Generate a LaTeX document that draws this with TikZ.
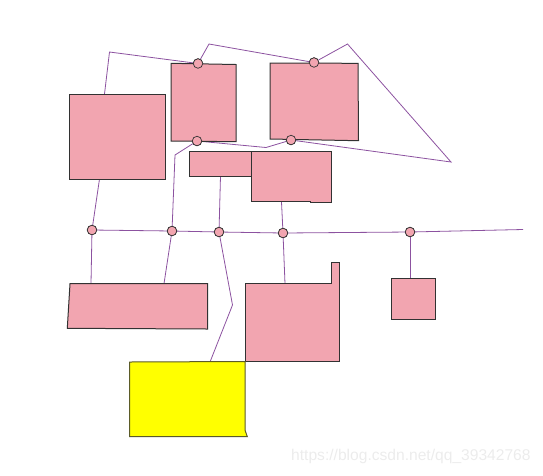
\documentclass[tikz,border=0pt]{standalone}
\usepackage{fontspec}
\newfontfamily\wmfont{Liberation Sans}
\definecolor{boxpink}{RGB}{242,165,176}
\definecolor{wire}{RGB}{140,82,160}
\definecolor{edge}{RGB}{50,50,50}
\definecolor{wmgray}{RGB}{236,236,236}
\definecolor{pureyellow}{RGB}{255,255,0}
\tikzset{
  block/.style={draw=edge, line width=1pt, fill=boxpink, line join=miter},
  yblock/.style={draw=edge!80!pureyellow, line width=1pt, fill=pureyellow},
  conn/.style={draw=wire, line width=0.8pt},
  junction/.style={circle, draw=edge, line width=0.7pt, fill=boxpink, inner sep=0pt, minimum size=9.5pt},
}
\begin{document}
\begin{tikzpicture}[x=1pt,y=-1pt]
\useasboundingbox (0,0) rectangle (543,475);

% junctions
\node[junction] (t1) at (198,63.5) {};
\node[junction] (t2) at (314,62.5) {};
\node[junction] (b1) at (197,141) {};
\node[junction] (b2) at (291,140) {};
\node[junction] (j1) at (92,230) {};
\node[junction] (j2) at (172,231) {};
\node[junction] (j3) at (219,232) {};
\node[junction] (j4) at (283,233) {};
\node[junction] (j5) at (410,232) {};

% attach points and bends
\coordinate (aTop) at (104.5,94);
\coordinate (aBot) at (99.5,179);
\coordinate (k1) at (109.5,52);
\coordinate (k2) at (209,44);
\coordinate (k3) at (347.5,44);
\coordinate (k4) at (451,162);
\coordinate (k5) at (266,147.5);
\coordinate (k6) at (175,155);
\coordinate (dBot) at (220.5,176);
\coordinate (eBot) at (281.5,202);
\coordinate (fTop) at (410,278.5);
\coordinate (gTop1) at (91,283.7);
\coordinate (gTop2) at (164,283.7);
\coordinate (hTop) at (285,283.7);
\coordinate (k7) at (232.5,305);
\coordinate (yTop) at (210,362);
\coordinate (lineEnd) at (523,229.5);

% connectors
\draw[conn] (aTop) -- (k1) -- (t1);
\draw[conn] (t1) -- (k2) -- (t2);
\draw[conn] (t2) -- (k3) -- (k4) -- (b2);
\draw[conn] (b1) -- (k5) -- (b2);
\draw[conn] (b1) -- (k6) -- (j2);
\draw[conn] (aBot) -- (j1);
\draw[conn] (dBot) -- (j3);
\draw[conn] (eBot) -- (j4);
\draw[conn] (j1) -- (j2);
\draw[conn] (j2) -- (j3);
\draw[conn] (j3) -- (j4);
\draw[conn] (j4) -- (j5);
\draw[conn] (j5) -- (lineEnd);
\draw[conn] (j5) -- (fTop);
\draw[conn] (j1) -- (gTop1);
\draw[conn] (j2) -- (gTop2);
\draw[conn] (j4) -- (hTop);
\draw[conn] (j3) -- (k7) -- (yTop);

% boxes
\draw[block] (69,94) rectangle (165,179);
\draw[block] (171,63.3) -- (236,64.5) -- (236,141.7) -- (171,141) -- cycle;
\draw[block] (270,63) -- (358,63.3) -- (358.5,140.7) -- (270,139) -- cycle;
\draw[block] (189,151.7) rectangle (251.3,176);
\draw[block] (251.3,151.7) -- (331.7,151.7) -- (331.7,202) -- (310,202) -- (310,201.5) -- (251.3,201.5) -- cycle;
\draw[block] (70,283.7) -- (207.7,283.7) -- (207.7,329) -- (67.3,328.3) -- cycle;
\draw[block] (245,283.7) -- (331.7,283.7) -- (331.7,262.7) -- (339.3,262.7) -- (339.3,361) -- (245,361) -- cycle;
\draw[yblock] (129.5,362) -- (245,361.5) -- (245,430) -- (247.3,436.7) -- (129.5,436.7) -- cycle;
\draw[block] (391.3,278.3) rectangle (435,319.3);

% redraw junctions on top
\foreach \n in {t1,t2,b1,b2,j1,j2,j3,j4,j5}
  \draw[edge, line width=0.7pt, fill=boxpink] (\n) circle (4.75pt);

% watermark
\node[anchor=base west, inner sep=0pt, text=wmgray, font=\wmfont\fontsize{15.6}{15.6}\selectfont] (wm) at (291,460) {https://blog.csdn.net/qq\_39342768};
\end{tikzpicture}
\end{document}
